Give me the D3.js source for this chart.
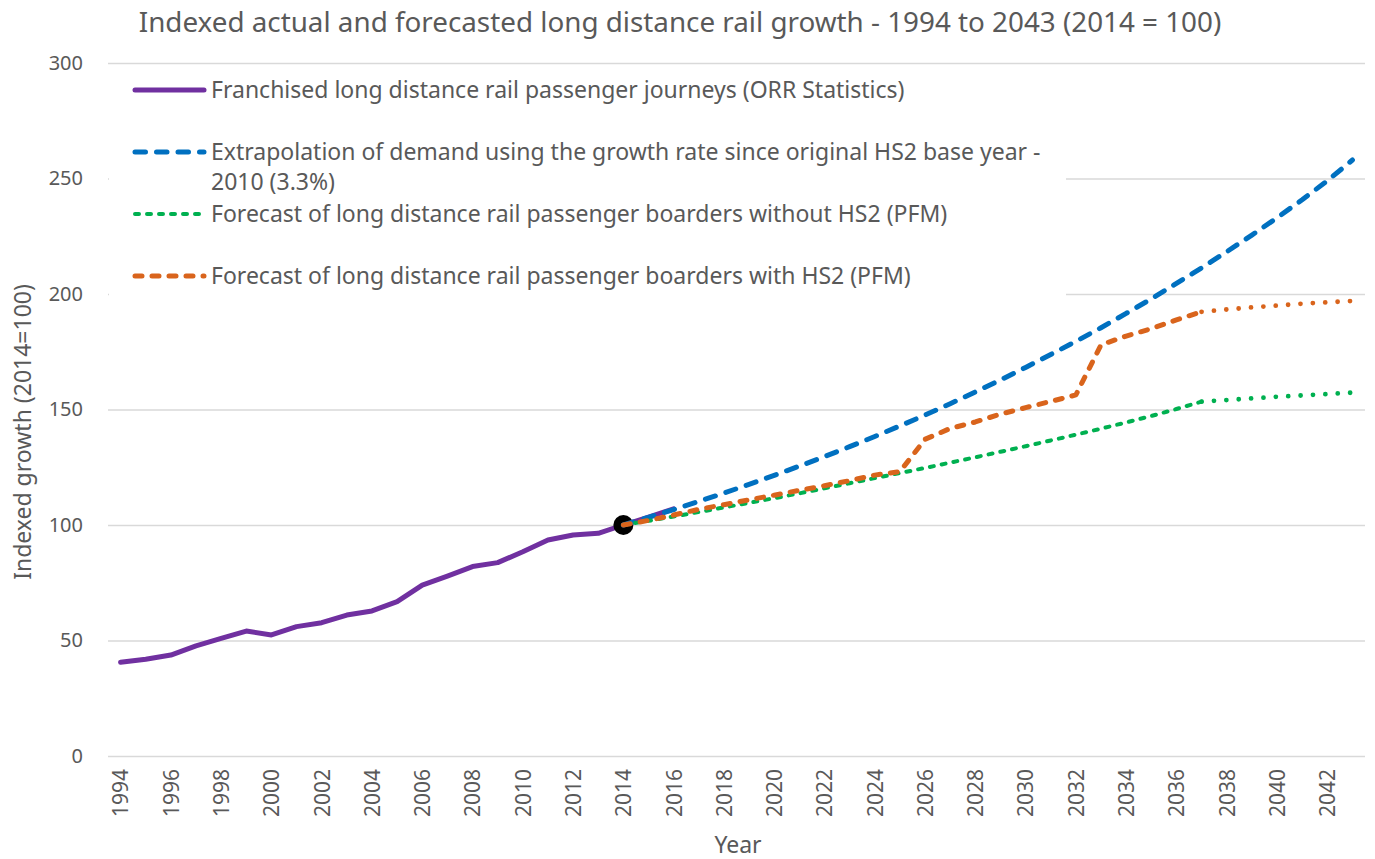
<!DOCTYPE html>
<html>
<head>
<meta charset="utf-8">
<script src="https://cdn.jsdelivr.net/npm/d3@7"></script>
<style>
  body { margin: 0; background: #fff; }
  text { font-family: "Noto Sans", "Open Sans", sans-serif; fill: #595959; }
</style>
</head>
<body>
<svg id="chart" width="1375" height="859"></svg>
<script>
// Years on the category axis
const years = d3.range(1994, 2044);
const tickYears = years.filter(y => y % 2 === 0);
const yTicks = [0, 50, 100, 150, 200, 250, 300];

// Franchised journeys (ORR), 1994-2016
const actualYears = d3.range(1994, 2017);
const actual = [40.6, 41.9, 43.7, 47.7, 50.9, 54.1, 52.4, 56.0, 57.7, 61.0, 62.8, 66.8,
  74.0, 77.9, 82.0, 83.7, 88.4, 93.5, 95.7, 96.4, 100, 103.4, 107.0];

// Forecast series, 2014-2043
const forecastYears = d3.range(2014, 2044);
const extrapolation = [100, 103.3, 106.7, 110.2, 113.8, 117.6, 121.5, 125.5, 129.6, 133.9,
  138.3, 142.9, 147.6, 152.5, 157.6, 162.8, 168.2, 173.8, 179.5, 185.4,
  191.6, 197.9, 204.6, 211.3, 218.3, 225.5, 233.0, 240.8, 249.0, 258.0];
const withoutHS2 = [100, 101.8, 103.7, 105.6, 107.6, 109.6, 111.6, 113.7, 115.9, 118.1,
  120.3, 122.5, 124.7, 127.0, 129.3, 131.7, 134.1, 136.6, 139.1, 141.7,
  144.4, 147.2, 150.2, 153.4, 154.1, 154.8, 155.5, 156.1, 156.7, 157.3];
const withHS2 = [100, 102.0, 104.3, 106.8, 108.8, 110.9, 112.9, 115.0, 117.0, 119.2,
  121.6, 123.1, 137.1, 141.8, 144.6, 148.0, 150.8, 153.5, 156.3, 178.0,
  181.8, 185.0, 188.8, 192.3, 193.3, 194.2, 195.0, 195.8, 196.4, 197.0];
const dottedFrom = 2037;   // PFM forecasts drawn dotted after this year

const legendLabels = [
  ['Franchised long distance rail passenger journeys (ORR Statistics)'],
  ['Extrapolation of demand using the growth rate since original HS2 base year -', '2010 (3.3%)'],
  ['Forecast of long distance rail passenger boarders without HS2 (PFM)'],
  ['Forecast of long distance rail passenger boarders with HS2 (PFM)']
];

const colors = { actual: '#7030a0', extrap: '#0070c0', without: '#00b050', withHS2: '#d9641c' };

const svg = d3.select('#chart');
const plot = { left: 108, right: 1365, top: 63, bottom: 756 };

const x = d3.scalePoint().domain(years).range([plot.left, plot.right]).padding(0.5);
const y = d3.scaleLinear().domain([0, 300]).range([plot.bottom, plot.top]);

// Title
svg.append('text')
  .attr('x', 680).attr('y', 32)
  .attr('text-anchor', 'middle')
  .attr('font-size', '27.8px')
  .text('Indexed actual and forecasted long distance rail growth - 1994 to 2043 (2014 = 100)');

// Y axis with gridlines
const yAxis = svg.append('g')
  .attr('transform', `translate(${plot.left},0)`)
  .call(d3.axisLeft(y).tickValues(yTicks).tickSize(-(plot.right - plot.left)).tickPadding(25));
yAxis.select('.domain').remove();
yAxis.selectAll('line').attr('stroke', '#d9d9d9').attr('stroke-width', 1.3);
yAxis.selectAll('text').attr('font-size', '20px').attr('fill', '#595959');

// X axis labels (rotated)
const xAxis = svg.append('g')
  .attr('transform', `translate(0,${plot.bottom})`)
  .call(d3.axisBottom(x).tickValues(tickYears).tickSize(0));
xAxis.select('.domain').remove();
xAxis.selectAll('text')
  .attr('font-size', '21px')
  .attr('fill', '#595959')
  .attr('transform', 'rotate(-90)')
  .attr('text-anchor', 'end')
  .attr('x', -13)
  .attr('y', 0)
  .attr('dy', '0.35em');

// Axis titles
svg.append('text')
  .attr('x', 738).attr('y', 853)
  .attr('text-anchor', 'middle')
  .attr('font-size', '23px')
  .text('Year');
svg.append('text')
  .attr('transform', 'translate(31,432) rotate(-90)')
  .attr('text-anchor', 'middle')
  .attr('font-size', '23px')
  .text('Indexed growth (2014=100)');

const line = d3.line()
  .x(d => x(d.year))
  .y(d => y(d.value));

const zip = (ys, vs) => ys.map((yr, i) => ({ year: yr, value: vs[i] }));

// Actual journeys
svg.append('path')
  .datum(zip(actualYears, actual))
  .attr('d', line)
  .attr('fill', 'none')
  .attr('stroke', colors.actual)
  .attr('stroke-width', 5)
  .attr('stroke-linejoin', 'round')
  .attr('stroke-linecap', 'round');

// 2014 base point
svg.append('circle')
  .attr('cx', x(2014)).attr('cy', y(100))
  .attr('r', 10)
  .attr('fill', '#000');

// Extrapolation at 3.3%
svg.append('path')
  .datum(zip(forecastYears, extrapolation))
  .attr('d', line)
  .attr('fill', 'none')
  .attr('stroke', colors.extrap)
  .attr('stroke-width', 5)
  .attr('stroke-dasharray', '10.5,11')
  .attr('stroke-linejoin', 'round')
  .attr('stroke-linecap', 'round');

// PFM forecasts: dashed up to dottedFrom, dotted afterwards
function drawForecast(values, color, width, dash) {
  const pts = zip(forecastYears, values);
  svg.append('path')
    .datum(pts.filter(d => d.year <= dottedFrom))
    .attr('d', line)
    .attr('fill', 'none')
    .attr('stroke', color)
    .attr('stroke-width', width)
    .attr('stroke-dasharray', dash)
    .attr('stroke-linejoin', 'round')
    .attr('stroke-linecap', 'round');
  svg.append('path')
    .datum(pts.filter(d => d.year >= dottedFrom))
    .attr('d', line)
    .attr('fill', 'none')
    .attr('stroke', color)
    .attr('stroke-width', 4.8)
    .attr('stroke-dasharray', '0,12.4')
    .attr('stroke-linecap', 'round');
}
drawForecast(withoutHS2, colors.without, 4, '4,8');
drawForecast(withHS2, colors.withHS2, 5, '7,10');

// Legend (white box over gridlines)
const legend = svg.append('g');
legend.append('rect')
  .attr('x', plot.left + 1).attr('y', 67)
  .attr('width', 957).attr('height', 231)
  .attr('fill', '#fff');

const legendItems = [
  { color: colors.actual, width: 5, dash: null, y: 90 },
  { color: colors.extrap, width: 5, dash: '10.5,11', y: 152 },
  { color: colors.without, width: 4, dash: '4,8', y: 214 },
  { color: colors.withHS2, width: 5, dash: '7,10', y: 276 }
];
legendItems.forEach((item, i) => {
  legend.append('line')
    .attr('x1', 135).attr('x2', 204)
    .attr('y1', item.y).attr('y2', item.y)
    .attr('stroke', item.color)
    .attr('stroke-width', item.width)
    .attr('stroke-dasharray', item.dash)
    .attr('stroke-linecap', 'round');
  legendLabels[i].forEach((txt, j) => {
    legend.append('text')
      .attr('x', 211)
      .attr('y', item.y + j * 30)
      .attr('dy', '0.35em')
      .attr('font-size', '23px')
      .text(txt);
  });
});
</script>
</body>
</html>
